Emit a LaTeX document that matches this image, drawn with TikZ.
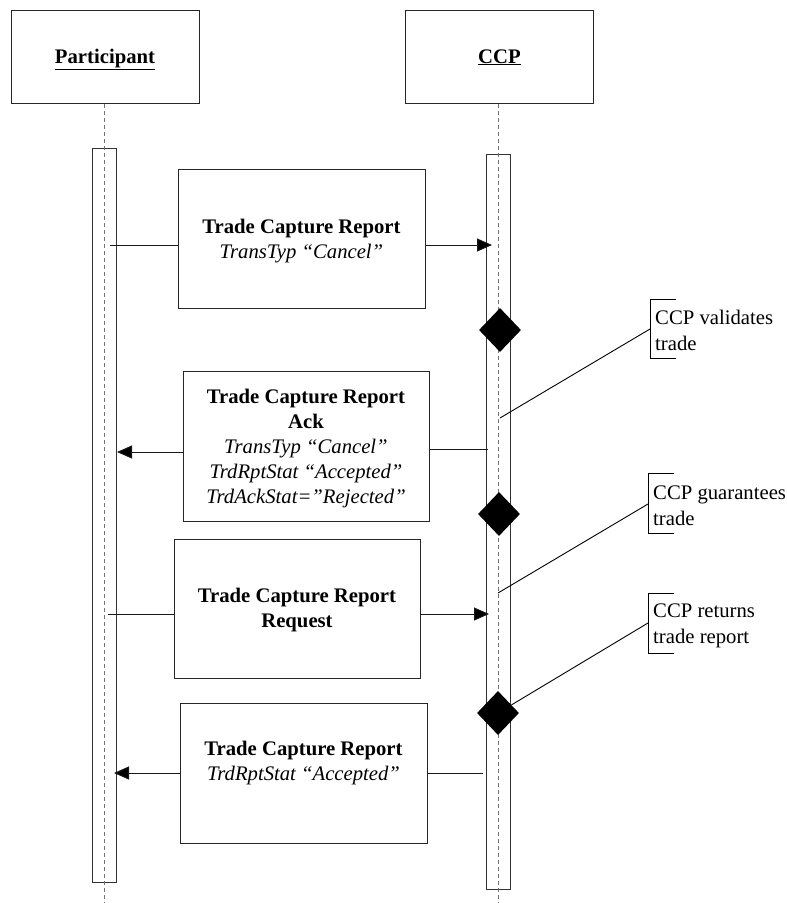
\documentclass[tikz,border=0pt]{standalone}
\usepackage{fontspec}
\setmainfont{Liberation Serif}
\usetikzlibrary{shapes.geometric,arrows.meta}
\begin{document}
\begin{tikzpicture}[x=1pt,y=-1pt,
  every node/.style={font=\fontsize{20.7}{25}\selectfont, inner sep=0pt},
  hdrbox/.style={draw=black!85, line width=1pt, minimum width=188pt, minimum height=93pt},
  hdrtext/.style={anchor=base, font=\fontsize{20.7}{25}\selectfont\bfseries},
  actbar/.style={draw=black!80, line width=0.9pt, minimum width=24pt},
  lifeline/.style={draw=black!55, line width=0.7pt, dash pattern=on 4pt off 3pt},
  msgbox/.style={draw=black!85, line width=1pt, fill=white},
  msgtext/.style={align=center},
  msg/.style={draw=black!90, line width=1pt},
  msgarrow/.style={msg, -{Triangle[length=15pt,width=13pt,fill=black]}},
  gate/.style={diamond, fill=black, minimum width=42pt, minimum height=44pt},
  notetext/.style={anchor=west, align=left, font=\fontsize{20.7}{26}\selectfont},
  bracket/.style={draw=black, line width=0.9pt},
  noteline/.style={draw=black, line width=0.9pt}
]
\useasboundingbox (0,0) rectangle (787,903);

% header boxes
\node[hdrbox] (ph) at (105,56.5) {};
\node[hdrtext] (pht) at (105,63) {\underline{Participant}};
\node[hdrbox] (ch) at (499.5,56.5) {};
\node[hdrtext] (cht) at (499.5,63) {\underline{CCP}};

% activation bars
\node[actbar, minimum height=734pt] (pb) at (104,515) {};
\node[actbar, minimum height=735pt] (cb) at (498,521.5) {};

% lifelines
\coordinate (pend) at (104,903);
\coordinate (cend) at (498,903);
\draw[lifeline] (ph.south -| pend) -- (pend);
\draw[lifeline] (ch.south -| cend) -- (cend);

% decision diamonds
\node[gate] (d1) at (500,330) {};
\node[gate] (d2) at (499,514) {};
\node[gate] (d3) at (498,713) {};

% message 1
\node[msgbox, minimum width=247pt, minimum height=139pt] (m1) at (301.5,238.5) {};
\node[msgtext] (t1) at (301.5,241) {\textbf{Trade Capture Report}\\\textit{TransTyp “Cancel”}};
\coordinate (s1) at (110,245);
\coordinate (e1) at (492,245);
\draw[msg] (s1) -- (s1 -| m1.west);
\draw[msgarrow] (e1 -| m1.east) -- (e1);

% message 2
\node[msgbox, minimum width=246pt, minimum height=150pt] (m2) at (306,446) {};
\node[msgtext] (t2) at (306,449) {\textbf{Trade Capture Report}\\\textbf{Ack}\\\textit{TransTyp “Cancel”}\\\textit{TrdRptStat “Accepted”}\\\textit{TrdAckStat=”Rejected”}};
\coordinate (s2) at (488,449);
\coordinate (e2) at (117,452);
\draw[msg] (s2) -- (s2 -| m2.east);
\draw[msgarrow] (e2 -| m2.west) -- (e2);

% message 3
\node[msgbox, minimum width=246pt, minimum height=139pt] (m3) at (297,608.5) {};
\node[msgtext] (t3) at (297,610) {\textbf{Trade Capture Report}\\\textbf{Request}};
\coordinate (s3) at (108,614);
\coordinate (e3) at (489,614);
\draw[msg] (s3) -- (s3 -| m3.west);
\draw[msgarrow] (e3 -| m3.east) -- (e3);

% message 4
\node[msgbox, minimum width=247pt, minimum height=140pt] (m4) at (303.5,773) {};
\node[msgtext] (t4) at (303.5,763) {\textbf{Trade Capture Report}\\\textit{TrdRptStat “Accepted”}};
\coordinate (s4) at (483,773);
\coordinate (e4) at (114,773);
\draw[msg] (s4) -- (s4 -| m4.east);
\draw[msgarrow] (e4 -| m4.west) -- (e4);

% annotations
\node[notetext] (n1) at (655,330) {CCP validates\\trade};
\draw[bracket] (676,299) -- (650,299) -- (650,358) -- (676,358);
\coordinate (b1) at (650,329);
\coordinate (x1) at (500,418);
\draw[noteline] (b1) -- (x1);

\node[notetext] (n2) at (653,505.5) {CCP guarantees\\trade};
\draw[bracket] (674,473) -- (648,473) -- (648,533) -- (674,533);
\coordinate (b2) at (648,504);
\coordinate (x2) at (498,593);
\draw[noteline] (b2) -- (x2);

\node[notetext] (n3) at (653,625.5) {CCP returns\\trade report};
\draw[bracket] (674,593) -- (648,593) -- (648,653) -- (674,653);
\coordinate (b3) at (648,623);
\draw[noteline] (b3) -- (d3);
\end{tikzpicture}
\end{document}
